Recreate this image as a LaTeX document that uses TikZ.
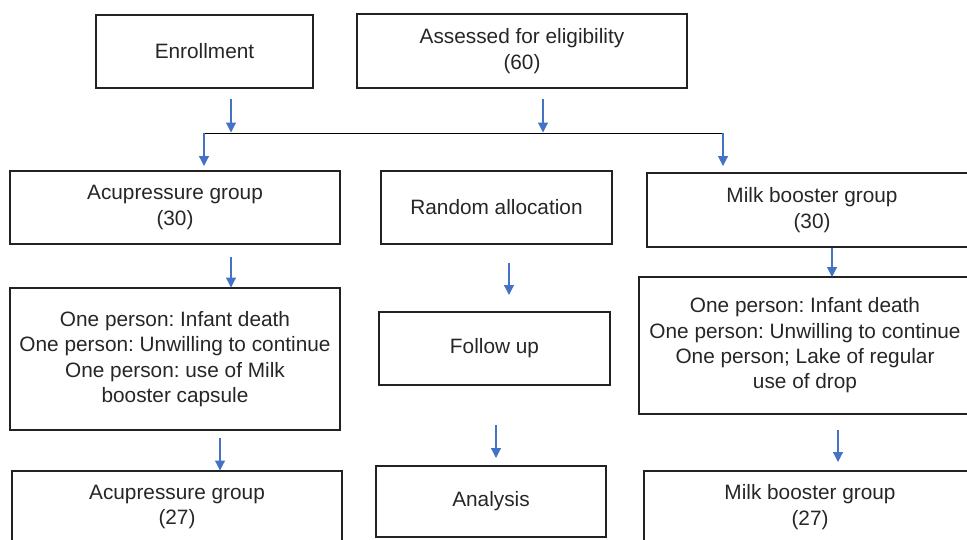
\documentclass[tikz,border=0pt]{standalone}
\usepackage{fontspec}
\setmainfont{Liberation Sans}
\usetikzlibrary{arrows.meta}
\definecolor{arrblue}{HTML}{4472C4}
\definecolor{boxline}{HTML}{222222}
\definecolor{txt}{HTML}{262626}
\frenchspacing
\begin{document}
\begin{tikzpicture}[x=1pt,y=-1pt,
  box/.style={draw=boxline,line width=1.1pt,align=center,text=txt,
    font=\fontsize{20.8}{25.3}\selectfont\frenchspacing,inner sep=0pt},
  arr/.style={draw=arrblue,line width=1.2pt,-{Triangle[width=10pt,length=10pt]}},
  joinline/.style={draw=black,line width=1pt}]
\useasboundingbox (0,0) rectangle (967,539);
% boxes
\node[box,minimum width=217,minimum height=73] (enroll) at (204.5,51.5) {Enrollment};
\node[box,minimum width=330,minimum height=74] (assess) at (522,51) {Assessed for eligibility\\(60)};
\node[box,minimum width=330,minimum height=73] (acu30) at (175,207.5) {Acupressure group\\(30)};
\node[box,minimum width=231,minimum height=73] (rand) at (496.5,207.5) {Random allocation};
\node[box,minimum width=330,minimum height=74] (milk30) at (812,210) {Milk booster group\\(30)};
\node[box,minimum width=330,minimum height=142] (acudrop) at (175,359) {One person: Infant death\\One person: Unwilling to continue\\One person: use of Milk\\booster capsule};
\node[box,minimum width=231,minimum height=73] (follow) at (494.5,348.5) {Follow up};
\node[box,minimum width=332,minimum height=137] (milkdrop) at (805,345.5) {One person: Infant death\\One person: Unwilling to continue\\One person; Lake of regular\\use of drop};
\node[box,minimum width=330,minimum height=72] (acu27) at (177,507) {Acupressure group\\(27)};
\node[box,minimum width=230,minimum height=71] (analysis) at (491,501.5) {Analysis};
\node[box,minimum width=332,minimum height=72] (milk27) at (810,507) {Milk booster group\\(27)};
% connector points
\coordinate (e1) at (231,99);  \coordinate (e2) at (231,132.5);
\coordinate (s1) at (543,99);  \coordinate (s2) at (543,132.5);
\coordinate (jl) at (204,133); \coordinate (jr) at (723,133);
\coordinate (jl2) at (204,166); \coordinate (jr2) at (723,166);
\coordinate (c1) at (231,257); \coordinate (c2) at (231,287.5);
\coordinate (r1) at (509,263); \coordinate (r2) at (509,295);
\coordinate (m1) at (832,247.5); \coordinate (m2) at (832,277);
\coordinate (d1) at (220,438); \coordinate (d2) at (220,470.5);
\coordinate (f1) at (496,425); \coordinate (f2) at (496,458);
\coordinate (g1) at (838,430); \coordinate (g2) at (838,462);
% connectors
\draw[joinline] (jl) -- (jr);
\draw[arr] (e1) -- (e2);
\draw[arr] (s1) -- (s2);
\draw[arr] (jl) -- (jl2);
\draw[arr] (jr) -- (jr2);
\draw[arr] (c1) -- (c2);
\draw[arr] (r1) -- (r2);
\draw[arr] (m1) -- (m2);
\draw[arr] (d1) -- (d2);
\draw[arr] (f1) -- (f2);
\draw[arr] (g1) -- (g2);
\end{tikzpicture}
\end{document}
